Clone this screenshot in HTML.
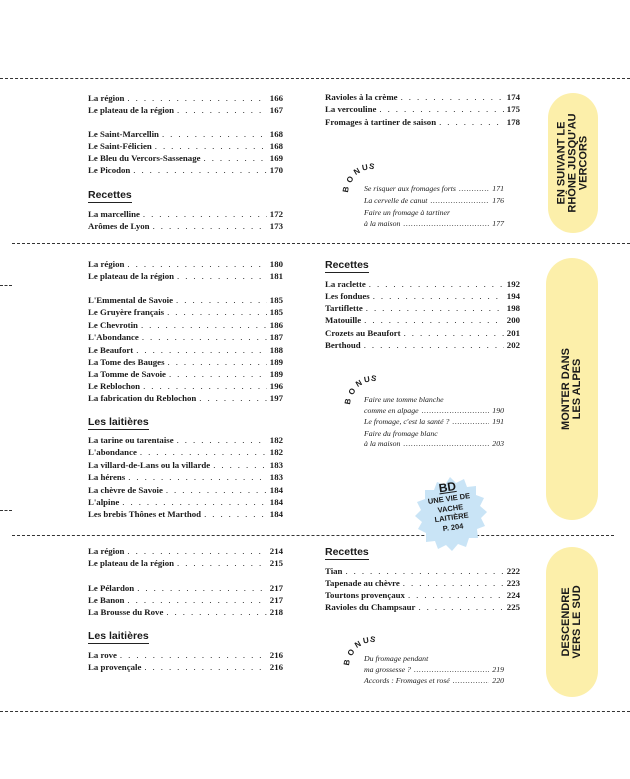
<!DOCTYPE html>
<html><head><meta charset="utf-8">
<style>
body{margin:0;background:#fff;}
#p{position:relative;width:630px;height:779px;overflow:hidden;background:#fff;font-family:"Liberation Serif",serif;color:#1a1a1a;}
.h{position:absolute;height:0;border-top:1px dashed #333;}
.r{position:absolute;display:flex;width:195px;height:12px;line-height:12px;font-size:8.8px;font-weight:bold;white-space:nowrap;}
.r .d{flex:1;overflow:hidden;margin:0 3px;font-weight:normal;}
.r .d::before{content:". . . . . . . . . . . . . . . . . . . . . . . . . . . . . . . . . . . . . . . . . . . . . . . . . . . . . . . . . . ";letter-spacing:1.9px;}
.b{width:140px;font-style:italic;font-size:7.8px;font-weight:normal;}
.b .d::before{content:"...................................................................................";letter-spacing:0.6px;}
.t{position:absolute;font-size:7.8px;font-style:italic;line-height:12px;}
.hd{position:absolute;font-family:"Liberation Sans",sans-serif;font-weight:bold;font-size:10.5px;border-bottom:1.3px solid #222;padding-bottom:1px;line-height:12px;}
.pill{position:absolute;background:#fcefaa;border-radius:26px;}
.pill div{position:absolute;left:50%;top:50%;transform:translate(-50%,-50%) rotate(-90deg);font-family:"Liberation Sans",sans-serif;font-weight:bold;font-size:11px;line-height:11px;text-align:center;white-space:nowrap;}
.bn{position:absolute;font-family:"Liberation Sans",sans-serif;font-weight:bold;font-size:8px;}
</style></head><body><div id="p">
<div class="h" style="left:0;width:630px;top:78px"></div>
<div class="h" style="left:12px;width:618px;top:243px"></div>
<div class="h" style="left:12px;width:602px;top:535px"></div>
<div class="h" style="left:0;width:630px;top:711px"></div>
<div class="h" style="left:0;width:12px;top:285px"></div>
<div class="h" style="left:0;width:12px;top:510px"></div>

<div class="r" style="left:88px;top:92px"><span>La région</span><span class="d"></span><span>166</span></div>
<div class="r" style="left:88px;top:104px"><span>Le plateau de la région</span><span class="d"></span><span>167</span></div>
<div class="r" style="left:88px;top:128px"><span>Le Saint-Marcellin</span><span class="d"></span><span>168</span></div>
<div class="r" style="left:88px;top:140px"><span>Le Saint-Félicien</span><span class="d"></span><span>168</span></div>
<div class="r" style="left:88px;top:152px"><span>Le Bleu du Vercors-Sassenage</span><span class="d"></span><span>169</span></div>
<div class="r" style="left:88px;top:164px"><span>Le Picodon</span><span class="d"></span><span>170</span></div>
<div class="hd" style="left:88px;top:189px">Recettes</div>
<div class="r" style="left:88px;top:208px"><span>La marcelline</span><span class="d"></span><span>172</span></div>
<div class="r" style="left:88px;top:220px"><span>Arômes de Lyon</span><span class="d"></span><span>173</span></div>
<div class="r" style="left:325px;top:91px"><span>Ravioles à la crème</span><span class="d"></span><span>174</span></div>
<div class="r" style="left:325px;top:103px"><span>La vercouline</span><span class="d"></span><span>175</span></div>
<div class="r" style="left:325px;top:116px"><span>Fromages à tartiner de saison</span><span class="d"></span><span>178</span></div>
<div class="r b" style="left:364px;top:183px"><span>Se risquer aux fromages forts</span><span class="d"></span><span>171</span></div>
<div class="r b" style="left:364px;top:195px"><span>La cervelle de canut</span><span class="d"></span><span>176</span></div>
<div class="t" style="left:364px;top:207px">Faire un fromage à tartiner</div>
<div class="r b" style="left:364px;top:218px"><span>à la maison</span><span class="d"></span><span>177</span></div>
<div class="pill" style="left:548px;top:93px;width:50px;height:140px"><div>EN SUIVANT LE<br>RHÔNE JUSQU'AU<br>VERCORS</div></div>

<div class="r" style="left:88px;top:258px"><span>La région</span><span class="d"></span><span>180</span></div>
<div class="r" style="left:88px;top:270px"><span>Le plateau de la région</span><span class="d"></span><span>181</span></div>
<div class="r" style="left:88px;top:294px"><span>L'Emmental de Savoie</span><span class="d"></span><span>185</span></div>
<div class="r" style="left:88px;top:306px"><span>Le Gruyère français</span><span class="d"></span><span>185</span></div>
<div class="r" style="left:88px;top:319px"><span>Le Chevrotin</span><span class="d"></span><span>186</span></div>
<div class="r" style="left:88px;top:331px"><span>L'Abondance</span><span class="d"></span><span>187</span></div>
<div class="r" style="left:88px;top:344px"><span>Le Beaufort</span><span class="d"></span><span>188</span></div>
<div class="r" style="left:88px;top:356px"><span>La Tome des Bauges</span><span class="d"></span><span>189</span></div>
<div class="r" style="left:88px;top:368px"><span>La Tomme de Savoie</span><span class="d"></span><span>189</span></div>
<div class="r" style="left:88px;top:380px"><span>Le Reblochon</span><span class="d"></span><span>196</span></div>
<div class="r" style="left:88px;top:392px"><span>La fabrication du Reblochon</span><span class="d"></span><span>197</span></div>
<div class="hd" style="left:88px;top:416px">Les laitières</div>
<div class="r" style="left:88px;top:434px"><span>La tarine ou tarentaise</span><span class="d"></span><span>182</span></div>
<div class="r" style="left:88px;top:446px"><span>L'abondance</span><span class="d"></span><span>182</span></div>
<div class="r" style="left:88px;top:459px"><span>La villard-de-Lans ou la villarde</span><span class="d"></span><span>183</span></div>
<div class="r" style="left:88px;top:471px"><span>La hérens</span><span class="d"></span><span>183</span></div>
<div class="r" style="left:88px;top:484px"><span>La chèvre de Savoie</span><span class="d"></span><span>184</span></div>
<div class="r" style="left:88px;top:496px"><span>L'alpine</span><span class="d"></span><span>184</span></div>
<div class="r" style="left:88px;top:508px"><span>Les brebis Thônes et Marthod</span><span class="d"></span><span>184</span></div>
<div class="hd" style="left:325px;top:259px">Recettes</div>
<div class="r" style="left:325px;top:278px"><span>La raclette</span><span class="d"></span><span>192</span></div>
<div class="r" style="left:325px;top:290px"><span>Les fondues</span><span class="d"></span><span>194</span></div>
<div class="r" style="left:325px;top:302px"><span>Tartiflette</span><span class="d"></span><span>198</span></div>
<div class="r" style="left:325px;top:314px"><span>Matouille</span><span class="d"></span><span>200</span></div>
<div class="r" style="left:325px;top:327px"><span>Crozets au Beaufort</span><span class="d"></span><span>201</span></div>
<div class="r" style="left:325px;top:339px"><span>Berthoud</span><span class="d"></span><span>202</span></div>
<div class="t" style="left:364px;top:394px">Faire une tomme blanche</div>
<div class="r b" style="left:364px;top:405px"><span>comme en alpage</span><span class="d"></span><span>190</span></div>
<div class="r b" style="left:364px;top:416px"><span>Le fromage, c'est la santé ?</span><span class="d"></span><span>191</span></div>
<div class="t" style="left:364px;top:428px">Faire du fromage blanc</div>
<div class="r b" style="left:364px;top:438px"><span>à la maison</span><span class="d"></span><span>203</span></div>
<div class="pill" style="left:546px;top:258px;width:52px;height:262px"><div>MONTER DANS<br>LES ALPES</div></div>

<div class="r" style="left:88px;top:545px"><span>La région</span><span class="d"></span><span>214</span></div>
<div class="r" style="left:88px;top:557px"><span>Le plateau de la région</span><span class="d"></span><span>215</span></div>
<div class="r" style="left:88px;top:582px"><span>Le Pélardon</span><span class="d"></span><span>217</span></div>
<div class="r" style="left:88px;top:594px"><span>Le Banon</span><span class="d"></span><span>217</span></div>
<div class="r" style="left:88px;top:606px"><span>La Brousse du Rove</span><span class="d"></span><span>218</span></div>
<div class="hd" style="left:88px;top:630px">Les laitières</div>
<div class="r" style="left:88px;top:649px"><span>La rove</span><span class="d"></span><span>216</span></div>
<div class="r" style="left:88px;top:661px"><span>La provençale</span><span class="d"></span><span>216</span></div>
<div class="hd" style="left:325px;top:546px">Recettes</div>
<div class="r" style="left:325px;top:565px"><span>Tian</span><span class="d"></span><span>222</span></div>
<div class="r" style="left:325px;top:577px"><span>Tapenade au chèvre</span><span class="d"></span><span>223</span></div>
<div class="r" style="left:325px;top:589px"><span>Tourtons provençaux</span><span class="d"></span><span>224</span></div>
<div class="r" style="left:325px;top:601px"><span>Ravioles du Champsaur</span><span class="d"></span><span>225</span></div>
<div class="t" style="left:364px;top:653px">Du fromage pendant</div>
<div class="r b" style="left:364px;top:664px"><span>ma grossesse ?</span><span class="d"></span><span>219</span></div>
<div class="r b" style="left:364px;top:675px"><span>Accords : Fromages et rosé</span><span class="d"></span><span>220</span></div>
<div class="pill" style="left:546px;top:547px;width:52px;height:150px"><div>DESCENDRE<br>VERS LE SUD</div></div>

<div class="bn" style="left:343px;top:185px;transform:rotate(-80deg)">B</div>
<div class="bn" style="left:347px;top:175px;transform:rotate(-55deg)">O</div>
<div class="bn" style="left:354px;top:167px;transform:rotate(-30deg)">N</div>
<div class="bn" style="left:362px;top:163px;transform:rotate(-10deg)">U</div>
<div class="bn" style="left:369px;top:162px;transform:rotate(10deg)">S</div>
<div class="bn" style="left:345px;top:397px;transform:rotate(-80deg)">B</div>
<div class="bn" style="left:349px;top:387px;transform:rotate(-55deg)">O</div>
<div class="bn" style="left:356px;top:379px;transform:rotate(-30deg)">N</div>
<div class="bn" style="left:364px;top:375px;transform:rotate(-10deg)">U</div>
<div class="bn" style="left:371px;top:374px;transform:rotate(10deg)">S</div>
<div class="bn" style="left:344px;top:658px;transform:rotate(-80deg)">B</div>
<div class="bn" style="left:348px;top:648px;transform:rotate(-55deg)">O</div>
<div class="bn" style="left:355px;top:640px;transform:rotate(-30deg)">N</div>
<div class="bn" style="left:363px;top:636px;transform:rotate(-10deg)">U</div>
<div class="bn" style="left:370px;top:635px;transform:rotate(10deg)">S</div>

<svg style="position:absolute;left:410px;top:475px" width="80" height="80" viewBox="0 0 80 80">
<polygon fill="#c9e4f6" points="40,2 46,8 54,4 57,12 66,11 66,20 74,23 70,31 77,37 71,43 75,51 67,54 68,63 59,63 56,72 48,69 42,76 36,70 28,74 25,66 16,67 16,58 8,54 12,47 5,41 11,35 7,27 15,24 15,15 24,15 27,7 35,10"/>
</svg>
<div style="position:absolute;left:410px;top:480px;width:80px;text-align:center;font-family:'Liberation Sans',sans-serif;font-weight:bold;color:#1a1a1a;transform:rotate(-8deg)">
<div style="font-size:12px;line-height:14px;text-decoration:underline">BD</div>
<div style="font-size:7.5px;line-height:9.5px">UNE VIE DE<br>VACHE<br>LAITIÈRE<br>P. 204</div>
</div>
</div></body></html>
